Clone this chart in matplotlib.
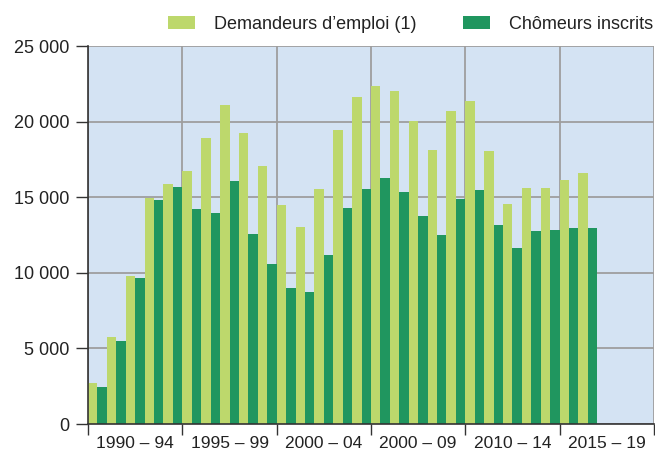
import matplotlib
matplotlib.use("Agg")
import matplotlib.pyplot as plt
import numpy as np

plt.rcParams['font.family'] = ['Liberation Sans', 'DejaVu Sans']

annees = list(range(1990, 2017))
demandeurs = [2710, 5750, 9790, 14950, 15870,
              16730, 18915, 21100, 19245, 17065,
              14485, 13030, 15540, 19445, 21630,
              22355, 22025, 20040, 18120, 20700,
              21360, 18055, 14550, 15610, 15610,
              16140, 16600]
chomeurs = [2450, 5490, 9660, 14815, 15675,
            14220, 13955, 16070, 12565, 10580,
            8995, 8730, 11180, 14285, 15540,
            16270, 15345, 13755, 12500, 14880,
            15475, 13160, 11640, 12765, 12830,
            12960, 12960]
periodes = ['1990 – 94', '1995 – 99', '2000 – 04', '2000 – 09', '2010 – 14', '2015 – 19']

vert_clair = '#bdd86c'
vert_fonce = '#20965f'

fig = plt.figure(figsize=(6.55, 4.55), dpi=100)
ax = fig.add_axes([0.1344, 0.0681, 0.864, 0.8308])
ax.set_facecolor('#d4e3f3')

x = np.array(annees)
ax.bar(x, demandeurs, width=0.5, align='edge', color=vert_clair,
       label='Demandeurs d’emploi (1)', zorder=3)
ax.bar(x + 0.5, chomeurs, width=0.5, align='edge', color=vert_fonce,
       label='Chômeurs inscrits', zorder=3)

ax.set_xlim(1990, 2020)
ax.set_ylim(0, 25000)

# graduations : bornes des périodes, libellés au centre
ax.set_xticks(np.arange(1990, 2021, 5))
ax.set_xticklabels([])
ax.set_xticks(np.arange(1992.5, 2020, 5), minor=True)
ax.set_xticklabels(periodes, minor=True)
ax.tick_params(axis='x', which='minor', length=0, pad=8.5, labelsize=12.5, colors='#222222')
ax.tick_params(axis='x', which='major', direction='out', length=8, width=1, color='#333333')

ax.set_yticks(np.arange(0, 25001, 5000))
ax.set_yticklabels([f'{v:,}'.replace(',', ' ') for v in range(0, 25001, 5000)])
ax.tick_params(axis='y', direction='out', length=8.5, width=1, color='#333333',
               labelsize=13, labelcolor='#222222', pad=5)

ax.grid(True, which='major', color='#9e9e9e', linewidth=1.3, zorder=1)
ax.set_axisbelow(True)
for s in ['top', 'right']:
    ax.spines[s].set_visible(False)
for s in ['left', 'bottom']:
    ax.spines[s].set_color('#333333')
    ax.spines[s].set_linewidth(1.2)
    ax.spines[s].set_zorder(4)

fig.legend(loc='center right', bbox_to_anchor=(1.0, 0.947), ncol=2, frameon=False,
           fontsize=13, handlelength=1.5, handleheight=0.8, handletextpad=1.05,
           columnspacing=2.6, borderaxespad=0, borderpad=0.1, labelcolor='#222222')

fig.savefig('out.png', dpi=100)
